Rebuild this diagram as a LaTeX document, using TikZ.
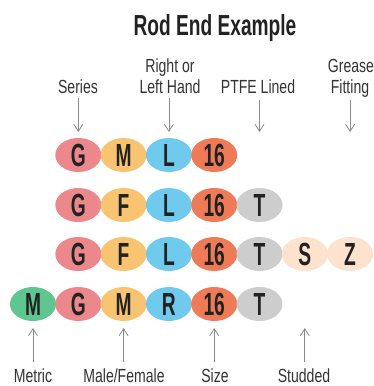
\documentclass[tikz,border=0pt]{standalone}
\usepackage{fontspec}
\setmainfont{Liberation Sans}
\newfontfamily\titlefont{Liberation Sans}[FakeStretch=0.66]
\newfontfamily\labfont{Liberation Sans}[FakeStretch=0.74]
\newfontfamily\letfont{Liberation Sans}[FakeStretch=0.6]
\usetikzlibrary{arrows.meta,shapes.geometric}
\definecolor{cG}{HTML}{EC878C}
\definecolor{cM}{HTML}{F9C472}
\definecolor{cL}{HTML}{70CAEE}
\definecolor{cN}{HTML}{EF7A57}
\definecolor{cT}{HTML}{CDCDCD}
\definecolor{cS}{HTML}{FDE2CE}
\definecolor{cX}{HTML}{5EC68E}
\definecolor{ink}{HTML}{222222}
\definecolor{labink}{HTML}{333333}
\definecolor{arrgray}{HTML}{8A8A8A}
\tikzset{
  pill/.style={ellipse, minimum width=46pt, minimum height=34pt, inner sep=0pt,
    fill=#1, text=ink, font=\letfont\bfseries\fontsize{32}{32}\selectfont,
    text height=23pt, text depth=0pt},
  lab/.style={anchor=base, inner sep=0pt, text=labink, font=\labfont\fontsize{19}{19}\selectfont},
  arr/.style={draw=arrgray, line width=0.8pt, -{Straight Barb[length=7pt,width=9pt,line width=0.8pt]}}
}
\begin{document}
\begin{tikzpicture}[x=1pt,y=-1pt]
\useasboundingbox[fill=white] (0,0) rectangle (373,386);
% title
\node[anchor=base, inner sep=0pt, text=ink, font=\titlefont\bfseries\fontsize{29}{29}\selectfont] (title) at (215,35) {Rod End Example};
% top labels
\node[lab] (series) at (78,93) {Series};
\node[lab] (right) at (170,72) {Right or};
\node[lab] (left) at (170,93) {Left Hand};
\node[lab] (ptfe) at (258,93) {PTFE Lined};
\node[lab] (grease) at (351,72) {Grease};
\node[lab] (fitting) at (350,93) {Fitting};
% row 1
\node[pill=cG] (r1a) at (78.3,155) {G};
\node[pill=cM] (r1b) at (123.6,155) {M};
\node[pill=cL] (r1c) at (168.9,155) {L};
\node[pill=cN] (r1d) at (214.2,155) {16};
% row 2
\node[pill=cG] (r2a) at (78.3,205) {G};
\node[pill=cM] (r2b) at (123.6,205) {F};
\node[pill=cL] (r2c) at (168.9,205) {L};
\node[pill=cN] (r2d) at (214.2,205) {16};
\node[pill=cT] (r2e) at (259.5,205) {T};
% row 3
\node[pill=cG] (r3a) at (78.3,254) {G};
\node[pill=cM] (r3b) at (123.6,254) {F};
\node[pill=cL] (r3c) at (168.9,254) {L};
\node[pill=cN] (r3d) at (214.2,254) {16};
\node[pill=cT] (r3e) at (259.5,254) {T};
\node[pill=cS] (r3f) at (304.8,254) {S};
\node[pill=cS] (r3g) at (350.1,254) {Z};
% row 4
\node[pill=cX] (r4a) at (33,304) {M};
\node[pill=cG] (r4b) at (78.3,304) {G};
\node[pill=cM] (r4c) at (123.6,304) {M};
\node[pill=cL] (r4d) at (168.9,304) {R};
\node[pill=cN] (r4e) at (214.2,304) {16};
\node[pill=cT] (r4f) at (259.5,304) {T};
% bottom labels
\node[lab] (metric) at (33,382) {Metric};
\node[lab] (male) at (124,382) {Male/Female};
\node[lab] (size) at (215,382) {Size};
\node[lab] (stud) at (304,382) {Studded};
% arrow end coordinates
\coordinate (t1s) at (78.3,98);  \coordinate (t1e) at (78.3,132);
\coordinate (t2s) at (168.9,98); \coordinate (t2e) at (168.9,132);
\coordinate (t3s) at (259.5,100); \coordinate (t3e) at (259.5,132);
\coordinate (t4s) at (350.1,100); \coordinate (t4e) at (350.1,132);
\coordinate (b1s) at (33,362); \coordinate (b1e) at (33,328);
\coordinate (b2s) at (123.6,362); \coordinate (b2e) at (123.6,328);
\coordinate (b3s) at (214.2,362); \coordinate (b3e) at (214.2,328);
\coordinate (b4s) at (304.8,362); \coordinate (b4e) at (304.8,328);
\draw[arr] (t1s) -- (t1e);
\draw[arr] (t2s) -- (t2e);
\draw[arr] (t3s) -- (t3e);
\draw[arr] (t4s) -- (t4e);
\draw[arr] (b1s) -- (b1e);
\draw[arr] (b2s) -- (b2e);
\draw[arr] (b3s) -- (b3e);
\draw[arr] (b4s) -- (b4e);
\end{tikzpicture}
\end{document}
